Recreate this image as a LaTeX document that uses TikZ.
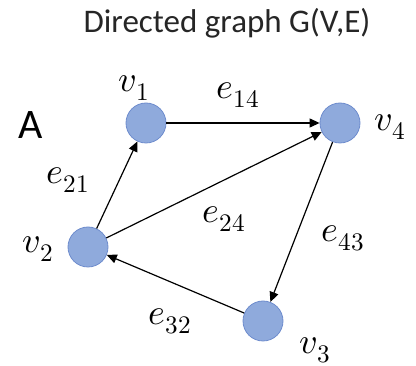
\documentclass[tikz,border=0pt]{standalone}
\usepackage{fontspec}
\usepackage{unicode-math}
\setmainfont{Carlito}
\setmathfont{Latin Modern Math}
\definecolor{nodeblue}{RGB}{143, 170, 220}
\definecolor{nodeedge}{RGB}{110, 140, 205}
\usetikzlibrary{arrows.meta}

\begin{document}
\begin{tikzpicture}[x=1pt, y=-1pt, >={Triangle[length=10pt, width=9pt]},
    vert/.style={circle, fill=nodeblue, draw=nodeedge, line width=0.8pt, minimum size=40pt, inner sep=0pt},
    lbl/.style={font=\fontsize{36}{38}\selectfont, inner sep=0pt},
    edge/.style={->, line width=1.2pt}]
    \useasboundingbox (0,0) rectangle (416,366);

    % Title
    \node[font=\fontsize{33}{36}\selectfont, text=black!85, inner sep=0pt] (title) at (227,23) {Directed graph G(V,E)};
    \node[font=\fontsize{42}{44}\selectfont, inner sep=0pt] (tag) at (31,125) {A};

    % Vertices
    \node[vert] (v1) at (146,123) {};
    \node[vert] (v4) at (340,123) {};
    \node[vert] (v2) at (88,247) {};
    \node[vert] (v3) at (263,321) {};

    % Vertex labels
    \node[lbl] (lv1) at (134,88) {$v_1$};
    \node[lbl] (lv4) at (390,127) {$v_4$};
    \node[lbl] (lv2) at (38,249) {$v_2$};
    \node[lbl] (lv3) at (315,350) {$v_3$};

    % Edges
    \draw[edge] (v1) -- (v4);
    \draw[edge] (v2) -- (v1);
    \draw[edge] (v2) -- (v4);
    \draw[edge] (v4) -- (v3);
    \draw[edge] (v3) -- (v2);

    % Edge labels
    \node[lbl] (l14) at (238,95) {$e_{14}$};
    \node[lbl] (l21) at (68,180) {$e_{21}$};
    \node[lbl] (l24) at (224,219) {$e_{24}$};
    \node[lbl] (l43) at (343,238) {$e_{43}$};
    \node[lbl] (l32) at (170,321) {$e_{32}$};
\end{tikzpicture}
\end{document}
